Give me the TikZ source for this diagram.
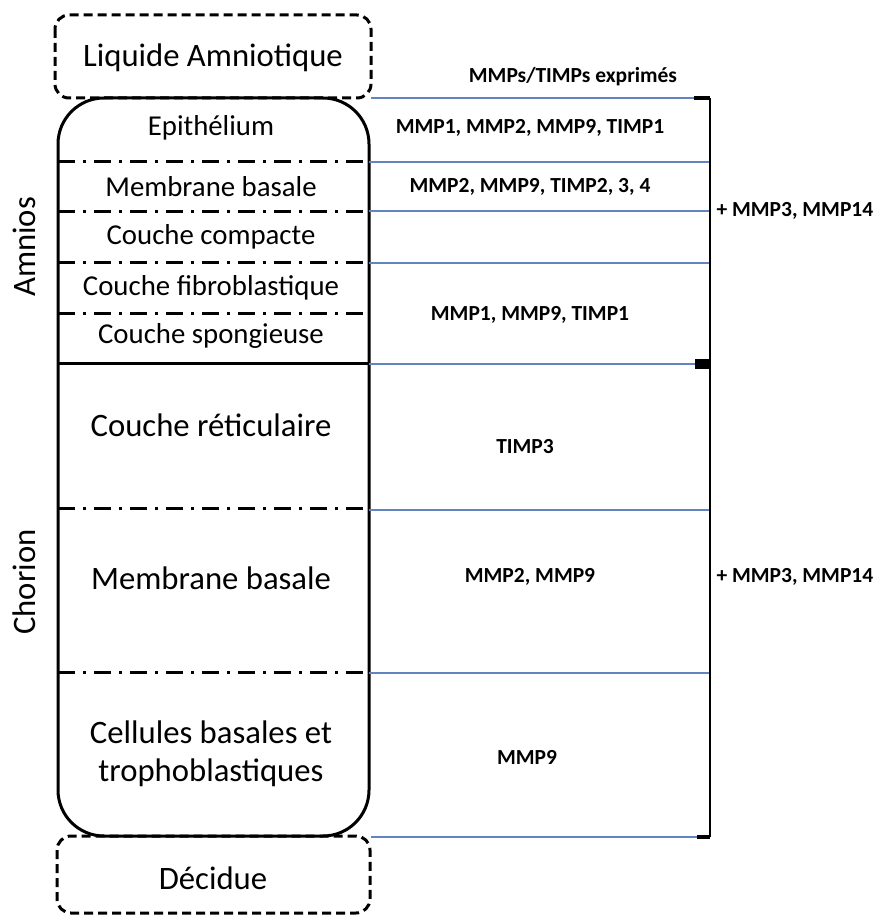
\documentclass[tikz,border=0pt]{standalone}
\usepackage{fontspec}
\setmainfont{Carlito}
\definecolor{bleu}{RGB}{98,132,192}
\tikzset{
  pointille/.style={line width=3pt, dash pattern=on 9pt off 5pt, rounded corners=14pt},
  membrane/.style={line width=3pt, rounded corners=46pt},
  tiret/.style={line width=3pt, dash pattern=on 17pt off 8pt on 3pt off 8pt},
  limite/.style={bleu, line width=1.2pt},
  couche/.style={font=\fontsize{28.8}{33}\selectfont},
  grande/.style={font=\fontsize{32.7}{38}\selectfont, align=center},
  mmp/.style={font=\bfseries\fontsize{21.5}{25}\selectfont},
}
\begin{document}
\begin{tikzpicture}[x=1pt,y=-1pt]
	\useasboundingbox (0,0) rectangle (882,915);
	
	% boites du haut et du bas
	\draw[pointille] (55,15) rectangle (371,98);
	\draw[pointille] (57,836) rectangle (370,913);
	\node[grande] (liquide) at (213,58) {Liquide Amniotique};
	\node[grande] (decidue) at (213,878) {Décidue};
	
	% membranes
	\draw[membrane] (58,98) rectangle (369,836);
	\draw[tiret] (58,161) -- (364,161);
	\draw[tiret] (58,211) -- (364,211);
	\draw[tiret] (58,262) -- (364,262);
	\draw[tiret] (58,313) -- (364,313);
	\draw[line width=3pt] (58,363) -- (369,363);
	\draw[tiret] (58,508) -- (364,508);
	\draw[tiret] (58,672) -- (364,672);
	
	\node[couche] (epi) at (211,128) {Epithélium};
	\node[couche] (mba) at (211,187) {Membrane basale};
	\node[couche] (cco) at (211,237) {Couche compacte};
	\node[couche] (cfi) at (211,288) {Couche fibroblastique};
	\node[couche] (csp) at (211,336) {Couche spongieuse};
	\node[grande] (cre) at (211,425) {Couche réticulaire};
	\node[grande] (mbc) at (211,578) {Membrane basale};
	\node[grande] (cel) at (211,754) {Cellules basales et\\trophoblastiques};
	
	\node[grande, rotate=90] (amnios) at (24,247) {Amnios};
	\node[grande, rotate=90] (chorion) at (24,582) {Chorion};
	
	% limites
	\draw[limite] (371,98) -- (695,98);
	\draw[limite] (369,162) -- (710,162);
	\draw[limite] (369,211) -- (710,211);
	\draw[limite] (369,263) -- (710,263);
	\draw[limite] (369,364) -- (696,364);
	\draw[limite] (369,510) -- (710,510);
	\draw[limite] (369,673) -- (711,673);
	\draw[limite] (371,837) -- (697,837);
	
	% accolade
	\coordinate (haut) at (710,98);
	\coordinate (bas) at (710,837);
	\draw[line width=1.5pt] (haut) -- (bas);
	\draw[line width=3.5pt] (694,98) -- (haut);
	\fill (695,359) rectangle (711,369);
	\draw[line width=3.5pt] (697,837) -- (bas);
	
	\node[mmp] (titre) at (573,77) {MMPs/TIMPs exprimés};
	\node[mmp] (m1) at (530,128) {MMP1, MMP2, MMP9, TIMP1};
	\node[mmp] (m2) at (530,187) {MMP2, MMP9, TIMP2, 3, 4};
	\node[mmp] (m3) at (530,315) {MMP1, MMP9, TIMP1};
	\node[mmp] (m4) at (525,447) {TIMP3};
	\node[mmp] (m5) at (530,577) {MMP2, MMP9};
	\node[mmp] (m6) at (527,757) {MMP9};
	\node[mmp, anchor=west] (plus1) at (713,211) {+ MMP3, MMP14};
	\node[mmp, anchor=west] (plus2) at (713,577) {+ MMP3, MMP14};
\end{tikzpicture}
\end{document}
